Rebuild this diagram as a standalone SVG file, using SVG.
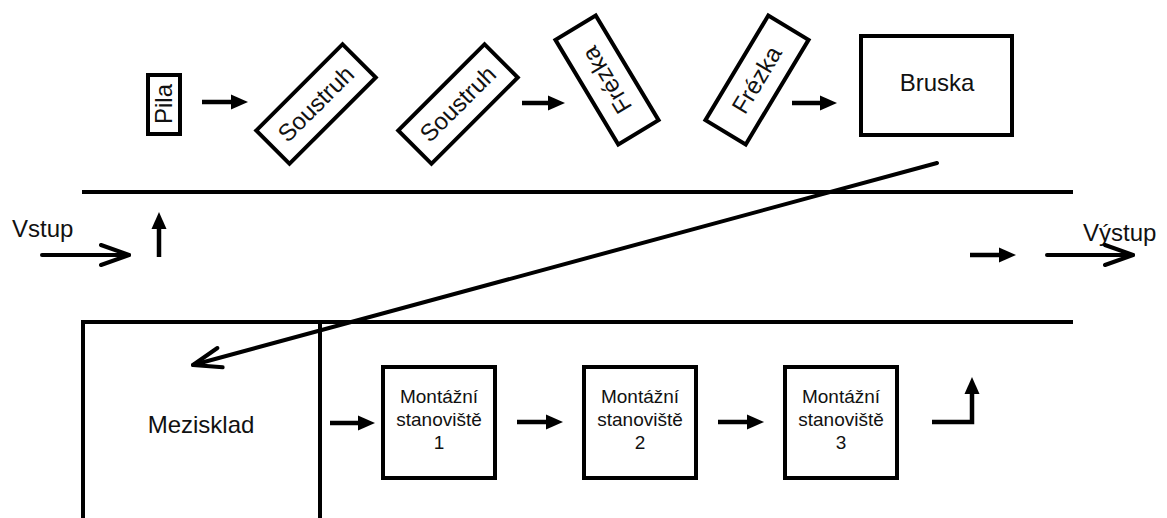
<svg xmlns="http://www.w3.org/2000/svg" width="1167" height="518" viewBox="0 0 1167 518">
<style>
.box{fill:#fff;stroke:#000;stroke-width:4}
.ln{fill:none;stroke:#000;stroke-width:4}
.ar{fill:none;stroke:#000;stroke-width:4.5;marker-end:url(#fill)}
.op{fill:none;stroke:#000;stroke-width:4;stroke-linecap:round;marker-end:url(#open)}
.t{font-family:"Liberation Sans",Arial,sans-serif;font-size:24px;fill:#111}
.s{font-family:"Liberation Sans",Arial,sans-serif;font-size:19px;fill:#111;text-anchor:middle}
.c{text-anchor:middle}
</style>
<defs>
<marker id="fill" markerUnits="userSpaceOnUse" markerWidth="40" markerHeight="40" refX="0" refY="0" orient="auto" overflow="visible">
<path d="M-5,-7.5 L12,0 L-5,7.5 Z" fill="#000"/>
</marker>
<marker id="open" markerUnits="userSpaceOnUse" markerWidth="40" markerHeight="40" refX="0" refY="0" orient="auto" overflow="visible">
<path d="M-28,-10 L0,0 L-28,10" fill="none" stroke="#000" stroke-width="4" stroke-linecap="round" stroke-linejoin="round"/>
</marker>
</defs>
<rect width="1167" height="518" fill="#fff"/>

<g id="conveyor">
<path class="ln" d="M82,192 H1073"/>
<path class="ln" d="M320,322 H1073"/>
</g>

<g id="mezisklad">
<path class="ln" d="M83,518 V322 H320 V518"/>
<text class="t c" x="201" y="433">Mezisklad</text>
</g>

<g id="pila">
<rect class="box" x="148" y="75" width="32" height="59"/>
<text class="t c" transform="translate(172,104) rotate(-90)" x="0" y="0">Pila</text>
</g>

<g id="soustruh1" transform="translate(316,104) rotate(-45)">
<rect class="box" x="-61" y="-23.5" width="122" height="47"/>
<text class="t c" x="0" y="8">Soustruh</text>
</g>

<g id="soustruh2" transform="translate(458,104) rotate(-45)">
<rect class="box" x="-61" y="-23.5" width="122" height="47"/>
<text class="t c" x="0" y="8">Soustruh</text>
</g>

<g id="frezka1" transform="translate(607,80) rotate(-121)">
<rect class="box" x="-61" y="-23.5" width="122" height="47"/>
<text class="t c" x="0" y="8">Frézka</text>
</g>

<g id="frezka2" transform="translate(757,80) rotate(-59)">
<rect class="box" x="-61" y="-23.5" width="122" height="47"/>
<text class="t c" x="0" y="8">Frézka</text>
</g>

<g id="bruska">
<rect class="box" x="861" y="36" width="151" height="99"/>
<text class="t c" x="937" y="91">Bruska</text>
</g>

<g id="stanoviste1">
<rect class="box" x="383" y="367" width="112" height="111"/>
<text class="s" x="439" y="403">Montážní</text>
<text class="s" x="439" y="426">stanoviště</text>
<text class="s" x="439" y="449">1</text>
</g>

<g id="stanoviste2">
<rect class="box" x="584" y="367" width="112" height="111"/>
<text class="s" x="640" y="403">Montážní</text>
<text class="s" x="640" y="426">stanoviště</text>
<text class="s" x="640" y="449">2</text>
</g>

<g id="stanoviste3">
<rect class="box" x="785" y="367" width="112" height="111"/>
<text class="s" x="841" y="403">Montážní</text>
<text class="s" x="841" y="426">stanoviště</text>
<text class="s" x="841" y="449">3</text>
</g>

<g id="vstup">
<text class="t" x="12" y="237">Vstup</text>
</g>
<g id="vystup">
<text class="t" x="1083" y="241">Výstup</text>
</g>

<g id="connectors">
<path class="op" d="M42,255 H129"/>
<path class="ar" d="M159,257 V224"/>
<path class="ar" d="M202,102 H236"/>
<path class="ar" d="M522,103 H553"/>
<path class="ar" d="M792,103 H825"/>
<path class="op" d="M937,163 L193,365"/>
<path class="ar" d="M330,423 H363"/>
<path class="ar" d="M517,422 H551"/>
<path class="ar" d="M718,422 H752"/>
<path class="ar" d="M932,422 H972 V389"/>
<path class="ar" d="M970,255 H1004"/>
<path class="op" d="M1047,255 H1133"/>
</g>
</svg>
